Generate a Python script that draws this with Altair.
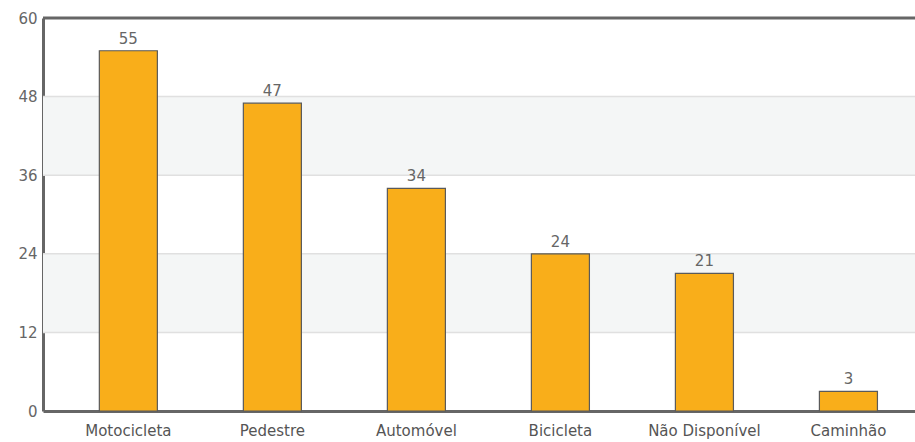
import altair as alt
import pandas as pd

categories = ["Motocicleta", "Pedestre", "Automóvel", "Bicicleta", "Não Disponível", "Caminhão"]
values = [55, 47, 34, 24, 21, 3]
band_lo = [12, 36]
band_hi = [24, 48]
y_ticks = [0, 12, 24, 36, 48, 60]

df = pd.DataFrame({"cat": categories, "val": values})
bands = pd.DataFrame({"lo": band_lo, "hi": band_hi})
top = pd.DataFrame({"y": [60]})

FONT = "DejaVu Sans"

xscale = alt.Scale(domain=categories, paddingInner=0.597, paddingOuter=0.326, align=0.6)
yscale = alt.Scale(domain=[0, 60], nice=False)

bg = alt.Chart(bands).mark_rect(color="#f4f6f6").encode(
    y=alt.Y("lo:Q", scale=yscale),
    y2="hi:Q",
)

grid = alt.Chart(pd.DataFrame({"t": y_ticks[1:-1]})).mark_rule(color="#e0e0e0", strokeWidth=1.5).encode(
    y=alt.Y("t:Q", scale=yscale)
)

bars = alt.Chart(df).mark_bar(color="#F9AE1A", stroke="#5a5a5a", strokeWidth=1.2).encode(
    x=alt.X("cat:N", sort=categories, scale=xscale,
            axis=alt.Axis(title=None, labelAngle=0, labelFont=FONT, labelFontSize=15,
                          labelColor="#555555", ticks=False, labelPadding=12,
                          domainColor="#666666", domainWidth=3)),
    y=alt.Y("val:Q", scale=yscale,
            axis=alt.Axis(title=None, values=y_ticks, grid=False, ticks=False,
                          labelFont=FONT, labelFontSize=15, labelColor="#666666",
                          labelPadding=6, domainColor="#666666", domainWidth=3)),
)

labels = alt.Chart(df).mark_text(font=FONT, fontSize=15, color="#666666", baseline="bottom", dy=-4).encode(
    x=alt.X("cat:N", sort=categories, scale=xscale),
    y=alt.Y("val:Q", scale=yscale),
    text="val:Q",
)

topline = alt.Chart(top).mark_rule(color="#666666", strokeWidth=3).encode(
    y=alt.Y("y:Q", scale=yscale)
)

chart = alt.layer(bg, grid, bars, labels, topline).properties(
    width=872, height=393,
    padding={"left": 43, "top": 18, "right": 0, "bottom": 31},
    autosize=alt.AutoSizeParams(type="none"),
    background="white",
).configure_view(stroke=None)

chart.save("out.html", embed_options={"renderer": "svg", "actions": False})
